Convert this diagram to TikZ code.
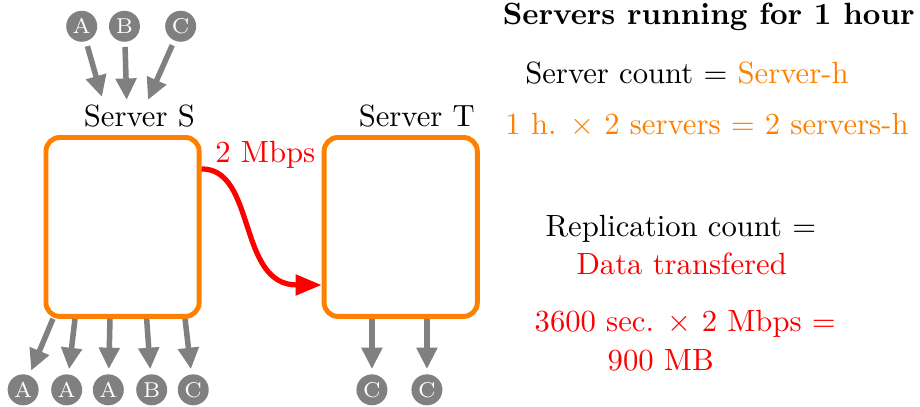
\documentclass[tikz,border=0pt]{standalone}
\usetikzlibrary{arrows.meta,positioning}
\begin{document}
\begin{tikzpicture}[
  every node/.style={font=\normalsize},
  server/.style={draw=orange, ultra thick, rounded corners=4.5pt,
    minimum width=1.755cm, minimum height=2.05cm, inner sep=0pt},
  client/.style={circle, fill=gray, text=white, font=\scriptsize,
    minimum size=0.355cm, inner sep=0pt},
  req/.style={draw=gray, line width=1.8pt, -{Triangle[length=7pt,width=6.5pt]}},
  flow/.style={draw=red, line width=1.7pt, -{Triangle[length=8.5pt,width=6.5pt]}}
]
  \useasboundingbox (0,0) rectangle (10.54,4.662);

  % Servers
  \node[server] (srvS) at (1.404,2.062) {};
  \node[server] (srvT) at (4.591,2.062) {};
  \node[anchor=base east, inner sep=0pt] (lblS) at ([shift={(-0.07,0.10)}]srvS.north east) {Server S};
  \node[anchor=base east, inner sep=0pt] (lblT) at ([shift={(-0.05,0.10)}]srvT.north east) {Server T};

  % Incoming requests
  \node[client] (inA) at (0.936,4.361) {A};
  \node[client] (inB) at (1.426,4.361) {B};
  \node[client] (inC) at (2.070,4.361) {C};
  \coordinate (hitA) at (1.168,3.550);
  \coordinate (hitB) at (1.451,3.517);
  \coordinate (hitC) at (1.695,3.517);
  \draw[req, shorten <=1.5pt] (inA) -- (hitA);
  \draw[req, shorten <=1.5pt] (inB) -- (hitB);
  \draw[req, shorten <=1.5pt] (inC) -- (hitC);

  % Outgoing replies of S
  \foreach \lt/\sx/\cx [count=\i] in {A/0.607/0.265, A/0.859/0.764, A/1.260/1.241, B/1.680/1.738, C/2.120/2.214}{
    \node[client] (outS\i) at (\cx,0.196) {\lt};
    \coordinate (srcS\i) at (\sx,1.01);
    \draw[req, shorten >=1.5pt] (srcS\i) -- (outS\i);
  }

  % Outgoing replies of T
  \foreach \sx [count=\i] in {4.261,4.891}{
    \node[client] (outT\i) at (\sx,0.196) {C};
    \coordinate (srcT\i) at (\sx,1.01);
    \draw[req, shorten >=1.5pt] (srcT\i) -- (outT\i);
  }

  % Replication flow
  \coordinate (flowout) at ([yshift=0.665cm]srvS.east);
  \coordinate (flowin) at ([yshift=-0.665cm]srvT.west);
  \draw[flow] (flowout) .. controls +(0.63,0) and +(-0.97,0) .. (flowin);
  \node[text=red, anchor=base west, inner sep=0pt] (rate) at (2.46,2.795) {2 Mbps};

  % Cost notes
  \node[anchor=base, inner sep=0pt] (title) at (8.12,4.376) {\bfseries Servers running for 1 hour};
  \node[anchor=base, inner sep=0pt] (srvcount) at (7.87,3.71) {Server count $=$ \textcolor{orange}{Server-h}};
  \node[anchor=base, inner sep=0pt, text=orange] (srvcalc) at (8.10,3.12) {1 h. $\times$ 2 servers $=$ 2 servers-h};
  \node[anchor=base, inner sep=0pt] (repcount) at (7.80,1.95) {Replication count $=$};
  \node[anchor=base, inner sep=0pt, text=red] (repdata) at (7.81,1.52) {Data transfered};
  \node[anchor=base, inner sep=0pt, text=red] (repcalc) at (7.85,0.86) {3600 sec. $\times$ 2 Mbps $=$};
  \node[anchor=base, inner sep=0pt, text=red] (represult) at (7.57,0.42) {900 MB};
\end{tikzpicture}
\end{document}
